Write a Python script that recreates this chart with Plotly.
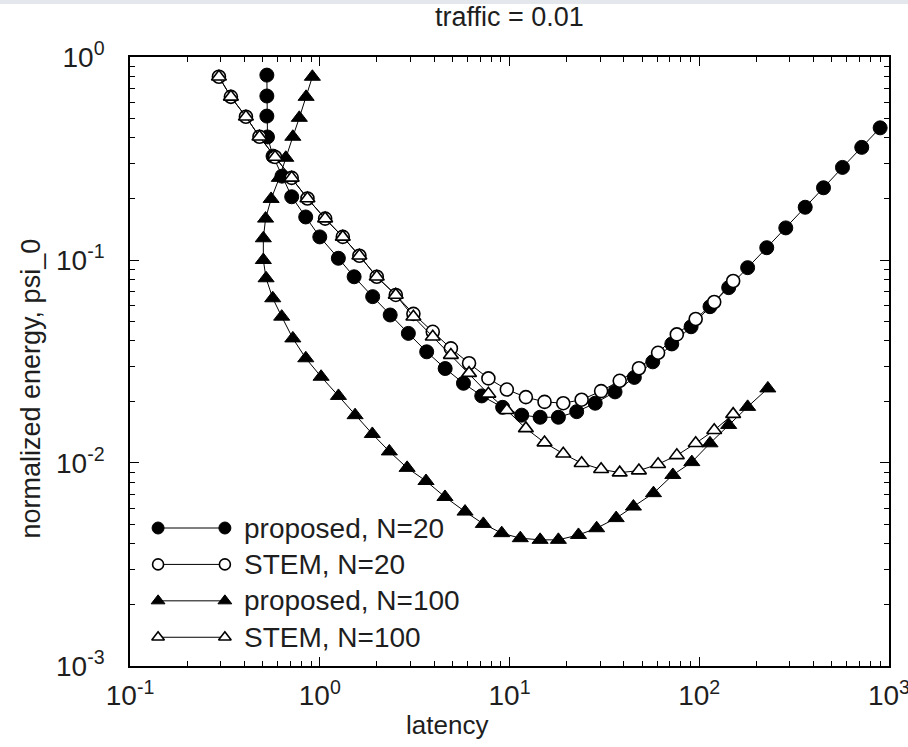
import plotly.graph_objects as go

# ---- data: latency vs. normalized energy (traffic = 0.01) ----
prop20_x = [0.526, 0.526, 0.526, 0.53, 0.567, 0.632, 0.711, 0.843, 1.0, 1.253,
            1.517, 1.90, 2.35, 2.93, 3.66, 4.58, 5.72, 7.14, 9.2, 11.6,
            14.5, 18.1, 22.6, 28.3, 36.0, 45.5, 56.9, 71.7, 90.6, 114,
            143, 180, 227, 286, 362, 452, 569, 719, 899]
prop20_y = [0.815, 0.643, 0.512, 0.404, 0.325, 0.259, 0.205, 0.163, 0.130, 0.102,
            0.0827, 0.0660, 0.0536, 0.0435, 0.0353, 0.0292, 0.0247, 0.0214, 0.0188, 0.0172,
            0.0168, 0.0168, 0.0179, 0.0197, 0.0224, 0.0264, 0.0315, 0.0386, 0.0469, 0.0589,
            0.0731, 0.0917, 0.115, 0.144, 0.182, 0.227, 0.286, 0.359, 0.448]

stem20_x = [0.294, 0.340, 0.408, 0.481, 0.581, 0.711, 0.861, 1.067, 1.322, 1.617,
            1.997, 2.515, 3.115, 3.94, 4.91, 6.12, 7.74, 9.68, 12.2, 15.3,
            19.2, 24.0, 30.4, 38.1, 48.1, 60.7, 76.2, 95.8, 120, 151]
stem20_y = [0.800, 0.637, 0.508, 0.405, 0.322, 0.254, 0.201, 0.160, 0.130, 0.105,
            0.0827, 0.0673, 0.0543, 0.0443, 0.0367, 0.0310, 0.0261, 0.0230, 0.0211, 0.0200,
            0.0197, 0.0205, 0.0226, 0.0254, 0.0293, 0.0349, 0.0430, 0.0512, 0.0621, 0.0788]

prop100_x = [0.914, 0.847, 0.780, 0.721, 0.662, 0.612, 0.554, 0.518, 0.504, 0.504,
             0.521, 0.565, 0.630, 0.721, 0.844, 1.016, 1.254, 1.535, 1.892, 2.326,
             2.886, 3.63, 4.57, 5.83, 7.28, 9.10, 11.4, 14.5, 18.1, 23.1,
             28.8, 36.5, 45.0, 57.4, 72.6, 91.4, 114, 143, 180, 230]
prop100_y = [0.800, 0.637, 0.502, 0.405, 0.319, 0.254, 0.200, 0.160, 0.128, 0.100,
             0.0813, 0.0648, 0.0526, 0.0411, 0.0328, 0.0266, 0.0214, 0.0172, 0.0139, 0.0114,
             0.00946, 0.00815, 0.00680, 0.00576, 0.00501, 0.00451, 0.00426, 0.00418, 0.00418, 0.00442,
             0.00477, 0.00535, 0.00610, 0.00710, 0.00873, 0.0101, 0.0125, 0.0154, 0.0189, 0.0233]

stem100_x = [0.294, 0.340, 0.408, 0.481, 0.581, 0.711, 0.861, 1.067, 1.322, 1.617,
             1.997, 2.515, 3.115, 3.94, 4.91, 6.12, 7.74, 9.68, 12.2, 15.3,
             19.2, 24.0, 30.4, 38.1, 48.1, 60.7, 76.2, 95.8, 120, 151]
stem100_y = [0.800, 0.637, 0.508, 0.405, 0.322, 0.254, 0.201, 0.160, 0.130, 0.105,
             0.0827, 0.0673, 0.0525, 0.0419, 0.0340, 0.0277, 0.0219, 0.0182, 0.0148, 0.0126,
             0.0111, 0.00997, 0.00931, 0.00896, 0.00917, 0.00986, 0.0109, 0.0125, 0.0145, 0.0174]

x_tickvals = [0.1, 1, 10, 100, 1000]
x_ticktext = ["10<sup>-1</sup>", "10<sup>0</sup>", "10<sup>1</sup>", "10<sup>2</sup>", "10<sup>3</sup>"]
y_tickvals = [0.001, 0.01, 0.1, 1]
y_ticktext = ["10<sup>-3</sup>", "10<sup>-2</sup>", "10<sup>-1</sup>", "10<sup>0</sup>"]

series_names = ["proposed, N=20", "STEM, N=20", "proposed, N=100", "STEM, N=100"]

FONT = "Liberation Sans, Arial, Helvetica, sans-serif"
INK = "#000000"
TEXT = "#1e1e1e"

styles = [
    dict(symbol="circle", color=INK, line=dict(color=INK, width=1)),
    dict(symbol="circle", color="white", line=dict(color=INK, width=1.6)),
    dict(symbol="triangle-up", color=INK, line=dict(color=INK, width=1)),
    dict(symbol="triangle-up", color="white", line=dict(color=INK, width=1.6)),
]
sizes = [14, 13, 14, 13]

fig = go.Figure()

series = [(prop20_x, prop20_y), (stem20_x, stem20_y), (prop100_x, prop100_y), (stem100_x, stem100_y)]
for (xs, ys), name, st, sz in zip(series, series_names, styles, sizes):
    fig.add_trace(go.Scatter(
        x=xs, y=ys, name=name, mode="lines+markers",
        line=dict(color=INK, width=1),
        marker=dict(size=sz, **st),
        showlegend=False, cliponaxis=False,
    ))

# ---- hand-drawn legend: marker - line - marker, then label ----
key_x0, key_x1, text_x = 0.037, 0.125, 0.147
row_top, row_step = 0.2266, 0.0598
leg_sizes = [12, 11, 12, 11]
for i, (name, st, sz) in enumerate(zip(series_names, styles, leg_sizes)):
    ry = row_top - i * row_step
    fig.add_trace(go.Scatter(
        x=[key_x0, key_x1], y=[ry, ry], mode="lines+markers",
        line=dict(color=INK, width=1),
        marker=dict(size=sz, **st),
        xaxis="x2", yaxis="y2", showlegend=False, hoverinfo="skip",
    ))
    fig.add_annotation(
        x=text_x, y=ry, xref="x2", yref="y2", text=name, showarrow=False,
        xanchor="left", yanchor="middle",
        font=dict(family=FONT, size=28, color=TEXT),
    )

# minor ticks at 2..9 within each decade
x_minor = [k * 10.0 ** d for d in range(-1, 3) for k in range(2, 10)]
y_minor = [k * 10.0 ** d for d in range(-3, 0) for k in range(2, 10)]

axis_common = dict(
    type="log", showline=True, linecolor=INK, linewidth=1.6, mirror="ticks",
    ticks="inside", ticklen=9, tickwidth=1.2, tickcolor=INK,
    showgrid=False, zeroline=False, ticklabeloverflow="allow", automargin=False,
    tickfont=dict(family=FONT, size=28, color=TEXT),
)

fig.update_layout(
    width=908, height=747,
    margin=dict(l=130, r=19, t=57, b=81),
    paper_bgcolor="white", plot_bgcolor="white",
    xaxis=dict(range=[-1.0004, 3.0004], tickmode="array", tickvals=x_tickvals, ticktext=x_ticktext,
               ticklabelstandoff=4,
               minor=dict(tickmode="array", tickvals=x_minor, ticks="inside", ticklen=5,
                          tickwidth=1.2, tickcolor=INK, showgrid=False),
               **axis_common),
    yaxis=dict(range=[-3.0004, 0.0004], tickmode="array", tickvals=y_tickvals, ticktext=y_ticktext,
               ticklabelstandoff=18,
               minor=dict(tickmode="array", tickvals=y_minor, ticks="inside", ticklen=5,
                          tickwidth=1.2, tickcolor=INK, showgrid=False),
               **axis_common),
    xaxis2=dict(range=[0, 1], overlaying="x", visible=False, fixedrange=True),
    yaxis2=dict(range=[0, 1], overlaying="y", visible=False, fixedrange=True),
    showlegend=False,
)

# titles
fig.add_annotation(x=0.5, y=1, xref="paper", yref="paper", yshift=40,
                   text="traffic = 0.01", showarrow=False, xanchor="center", yanchor="middle",
                   font=dict(family=FONT, size=27, color=TEXT))
fig.add_annotation(x=(447 - 130) / 759, y=0, xref="paper", yref="paper", yshift=-59,
                   text="latency", showarrow=False, xanchor="center", yanchor="middle",
                   font=dict(family=FONT, size=26, color=TEXT))
fig.add_annotation(x=0, y=0.5, xref="paper", yref="paper", xshift=-100, yshift=-27,
                   text="normalized energy, psi_0", showarrow=False, textangle=-90,
                   xanchor="center", yanchor="middle",
                   font=dict(family=FONT, size=27, color=TEXT))

# light strip along the top edge
fig.add_shape(type="rect", xref="paper", yref="paper", x0=-0.2, x1=1.05, y0=1.0 + 53 / 609, y1=1.0 + 60 / 609,
              fillcolor="#e4e7ec", line=dict(width=0), layer="below")

fig.write_html("out.html")
